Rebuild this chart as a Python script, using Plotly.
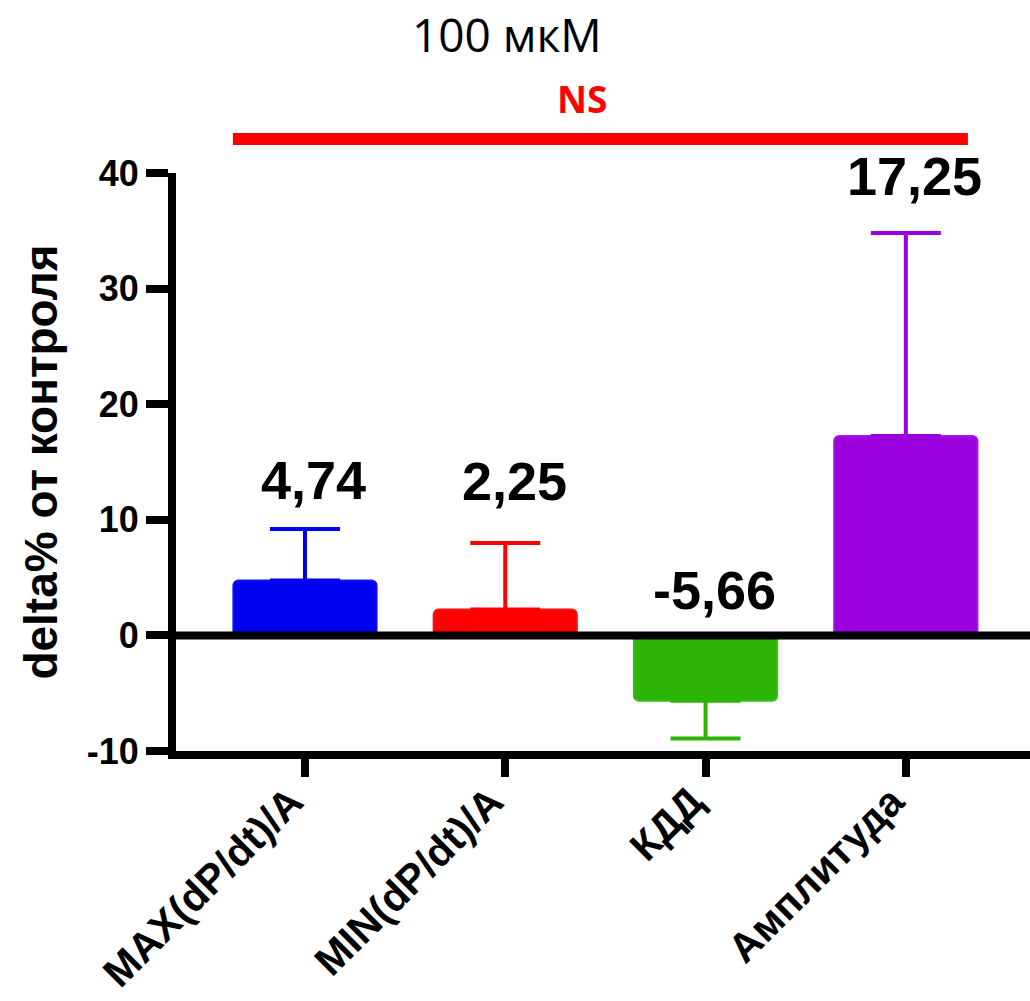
import plotly.graph_objects as go

categories = ["MAX(dP/dt)/A", "MIN(dP/dt)/A", "КДД", "Амплитуда"]
values = [4.74, 2.25, -5.66, 17.25]
err_plus = [4.46, 5.75, 0.0, 17.55]
err_minus = [0.0, 0.0, 3.25, 0.0]
value_labels = ["4,74", "2,25", "-5,66", "17,25"]
colors = ["#0000F0", "#FF0000", "#2DB404", "#9900DD"]
edge_colors = ["#1010FF", "#FF1010", "#33C010", "#AA10EE"]
y_ticks = [-10, 0, 10, 20, 30, 40]
y_ticktext = ["-10", "0", "10", "20", "30", "40"]

title_text = "100 мкМ"
sig_text = "NS"
y_title = "delta% от контроля"

T, B, L = 173, 250, 176
PH = 1001 - T - B

fig = go.Figure()
for i, cat in enumerate(categories):
    fig.add_trace(go.Bar(
        x=[cat], y=[values[i]], width=0.715,
        marker=dict(color=colors[i], line=dict(color=edge_colors[i], width=2)),
        error_y=dict(type="data", symmetric=False, array=[err_plus[i]],
                     arrayminus=[err_minus[i]], color=colors[i],
                     thickness=4, width=35),
        showlegend=False,
    ))

# value labels
label_shift = [17, 30, 13, 25]
for i, cat in enumerate(categories):
    base = max(values[i] + err_plus[i], 0)
    fig.add_annotation(x=cat, y=base, text="<b>%s</b>" % value_labels[i],
                       showarrow=False, yanchor="bottom", yshift=label_shift[i], xshift=9,
                       font=dict(family="Liberation Sans", size=54, color="black"))

fig.add_annotation(xref="paper", yref="paper", x=(507 - L) / (1030 - L), y=1 + (T - 34) / PH,
                   text=title_text, showarrow=False, xanchor="center", yanchor="middle",
                   font=dict(family="Open Sans", size=46, color="black"))
fig.add_annotation(xref="paper", yref="paper", x=(582 - L) / (1030 - L), y=1 + (T - 98) / PH,
                   text="<b>%s</b>" % sig_text, showarrow=False, xanchor="center", yanchor="middle",
                   font=dict(family="Open Sans", size=37, color="#FF0000"))

# significance line
fig.add_shape(type="line", xref="x", yref="paper", x0=-0.36, x1=3.31,
              y0=1 + (T - 139) / PH, y1=1 + (T - 139) / PH,
              line=dict(color="#FF0000", width=12))
# zero line
fig.add_shape(type="line", xref="paper", yref="y", x0=-0.005, x1=1, y0=0, y1=0,
              line=dict(color="black", width=8), layer="above")

fig.update_layout(
    width=1030, height=1001,
    margin=dict(l=L, r=0, t=T, b=B),
    paper_bgcolor="white", plot_bgcolor="white",
    barmode="overlay", barcornerradius=5,
    xaxis=dict(type="category", range=[-0.644, 3.62], showline=True, linecolor="black",
               linewidth=8, ticks="outside", ticklen=18, tickwidth=8, tickcolor="black",
               tickangle=-45, showgrid=False, zeroline=False,
               ticklabelstandoff=-16, ticklabelshift=-14,
               automargin=False,
               tickfont=dict(family="Liberation Sans", size=41, color="black", weight="bold")),
    yaxis=dict(range=[-10, 40], tickvals=y_ticks, ticktext=y_ticktext, showline=True,
               linecolor="black", automargin=False,
               linewidth=8, ticks="outside", ticklen=22, tickwidth=8, tickcolor="black",
               showgrid=False, zeroline=False,
               tickfont=dict(family="Liberation Sans", size=36, color="black", weight="bold"),
               title=dict(text="<b>%s</b>" % y_title, standoff=18,
                          font=dict(family="Liberation Sans", size=46, color="black"))),
)

fig.write_html("out.html")
